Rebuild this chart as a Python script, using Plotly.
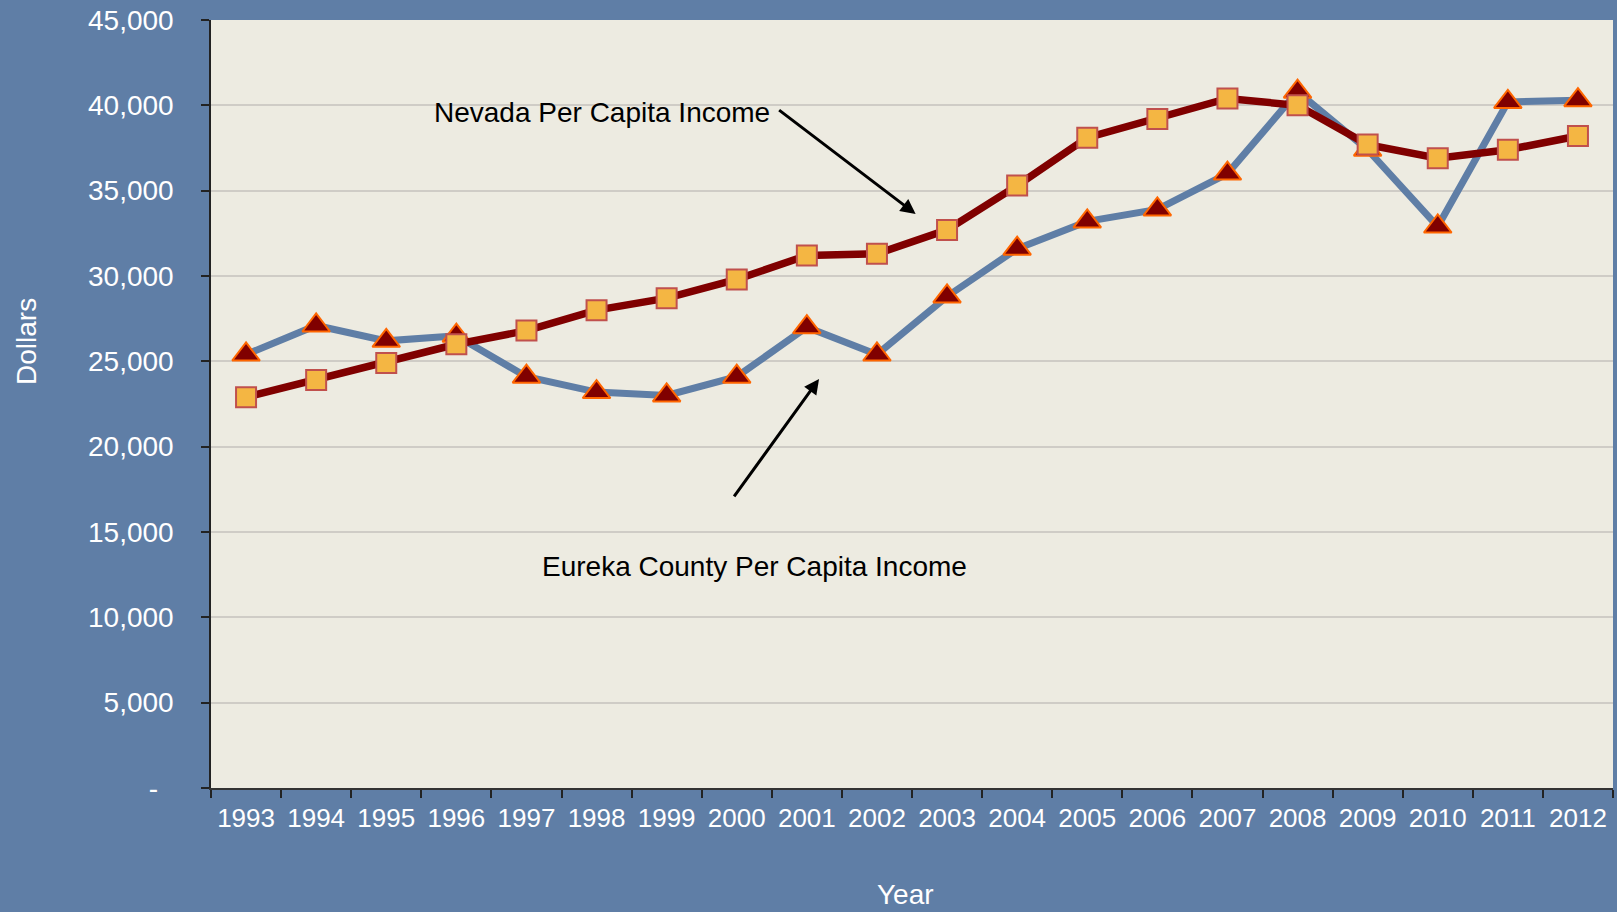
import plotly.graph_objects as go

years = [str(y) for y in range(1993, 2013)]
eureka = [25400, 27100, 26200, 26500, 24100, 23200, 23000, 24100, 27000, 25400,
          28800, 31600, 33200, 33900, 36000, 40800, 37400, 32900, 40200, 40300]
nevada = [22900, 23900, 24900, 26000, 26800, 28000, 28700, 29800, 31200, 31300,
          32700, 35300, 38100, 39200, 40400, 40000, 37700, 36900, 37400, 38200]
y_tickvals = [0, 5000, 10000, 15000, 20000, 25000, 30000, 35000, 40000, 45000]
y_ticktext = ["-\u00a0\u00a0", "5,000", "10,000", "15,000", "20,000", "25,000",
              "30,000", "35,000", "40,000", "45,000"]

BG = "#5F7EA6"
PLOT_BG = "#EDEBE1"
FONT = "Liberation Sans, Arial, sans-serif"

fig = go.Figure()
fig.add_trace(go.Scatter(
    x=years, y=eureka, mode="lines+markers", name="Eureka County Per Capita Income",
    line=dict(color="#5F7EA6", width=7),
    marker=dict(symbol="triangle-up", size=24, color="#800000",
                line=dict(color="#FF6600", width=2)),
))
fig.add_trace(go.Scatter(
    x=years, y=nevada, mode="lines+markers", name="Nevada Per Capita Income",
    line=dict(color="#800000", width=7.5),
    marker=dict(symbol="square", size=20, color="#F4B643",
                line=dict(color="#C0504D", width=2)),
))

fig.update_layout(
    width=1617, height=912,
    margin=dict(l=211, r=4, t=20, b=124),
    paper_bgcolor=BG, plot_bgcolor=PLOT_BG,
    showlegend=False,
    font=dict(family=FONT, color="white"),
    xaxis=dict(
        type="category", range=[-0.5, 19.5], tickson="boundaries",
        ticks="outside", ticklen=8, tickcolor="#222222", tickwidth=1.5,
        showline=True, linecolor="#333333", linewidth=1.5,
        showgrid=False, tickfont=dict(size=26, color="white", family=FONT),
        ticklabelstandoff=6,
    ),
    yaxis=dict(
        range=[0, 45000], tickvals=y_tickvals, ticktext=y_ticktext,
        ticks="outside", ticklen=8, tickcolor="#222222", tickwidth=1.5,
        showline=True, linecolor="#222222", linewidth=1.5,
        showgrid=True, gridcolor="#CFCCC6", gridwidth=1.5, zeroline=False,
        tickfont=dict(size=28, color="white", family=FONT),
        ticklabelstandoff=22,
    ),
)

fig.add_annotation(
    xref="paper", yref="paper", x=-0.132, y=0.582, xanchor="center", yanchor="middle",
    text="Dollars", textangle=-90, showarrow=False,
    font=dict(size=28, color="white", family=FONT),
)
fig.add_annotation(
    xref="paper", yref="paper", x=0.4953, y=-0.139, xanchor="center", yanchor="middle",
    text="Year", showarrow=False,
    font=dict(size=28, color="white", family=FONT),
)
fig.add_annotation(
    xref="x domain", yref="y domain", x=0.5026, y=0.7474,
    ax=-138, ay=-105, axref="pixel", ayref="pixel",
    showarrow=True, arrowhead=2, arrowsize=1, arrowwidth=3, arrowcolor="black", text="",
)
fig.add_annotation(
    xref="x domain", yref="y domain", x=0.4337, y=0.5326,
    ax=-86, ay=119, axref="pixel", ayref="pixel",
    showarrow=True, arrowhead=2, arrowsize=1, arrowwidth=3, arrowcolor="black", text="",
)
fig.add_annotation(
    xref="x domain", yref="y domain", x=0.1573, y=0.879, xanchor="left", yanchor="middle",
    text="Nevada Per Capita Income", showarrow=False,
    font=dict(size=28, color="black", family=FONT),
)
fig.add_annotation(
    xref="x domain", yref="y domain", x=0.3880, y=0.2878, xanchor="center", yanchor="middle",
    text="Eureka County Per Capita Income", showarrow=False,
    font=dict(size=28, color="black", family=FONT),
)

fig.write_html("out.html", config={"displayModeBar": False},
               post_script="document.body.style.margin='0';")
